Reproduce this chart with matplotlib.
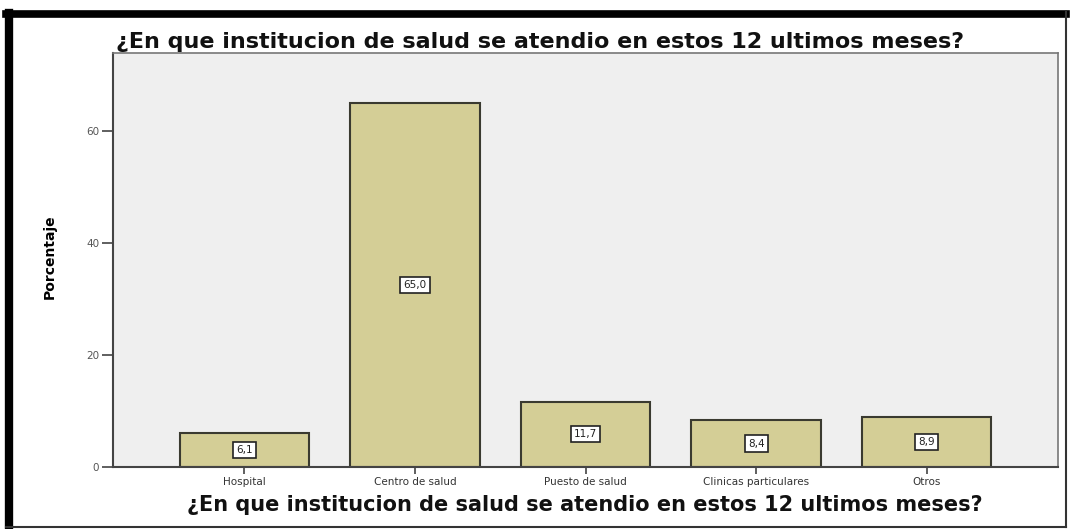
import matplotlib
matplotlib.use("Agg")
import matplotlib.pyplot as plt
from matplotlib.lines import Line2D

# datos
categorias = ["Hospital", "Centro de salud", "Puesto de salud", "Clinicas particulares", "Otros"]
porcentajes = [6.1, 65.0, 11.7, 8.4, 8.9]
etiquetas = ["6,1", "65,0", "11,7", "8,4", "8,9"]
yticks = [0, 20, 40, 60]
titulo = "¿En que institucion de salud se atendio en estos 12 ultimos meses?"

fig = plt.figure(figsize=(10.72, 5.29), dpi=100)
fig.patch.set_facecolor("white")

# marco negro de afuera
fig.add_artist(Line2D([9/1072, 9/1072], [2/529, 516/529], color="black", lw=6, transform=fig.transFigure))
fig.add_artist(Line2D([6/1072, 1066/1072], [515/529, 515/529], color="black", lw=5.5, transform=fig.transFigure))
fig.add_artist(Line2D([1066/1072, 1066/1072], [2/529, 517/529], color="#333333", lw=1.5, transform=fig.transFigure))
fig.add_artist(Line2D([6/1072, 1066/1072], [2.5/529, 2.5/529], color="#333333", lw=1.5, transform=fig.transFigure))

ax = fig.add_axes([113/1072, 62/529, 945/1072, 414/529])
ax.set_facecolor("#EFEFEF")

x = list(range(len(categorias)))
ax.bar(x, porcentajes, width=0.76, color="#D4CE96", edgecolor="#3a3a30", linewidth=1.5, zorder=2)

for xi, v, t in zip(x, porcentajes, etiquetas):
    ax.text(xi, v / 2, t, ha="center", va="center", fontsize=7.5, color="#222222", zorder=3,
            bbox=dict(boxstyle="square,pad=0.3", facecolor="white", edgecolor="#222222", linewidth=1.2))

ax.set_xlim(-0.77, len(categorias) - 1 + 0.77)
ax.set_ylim(0, 74)
ax.set_yticks(yticks)
ax.set_yticklabels([str(t) for t in yticks], fontsize=7.5, color="#555555")
ax.set_xticks(x)
ax.set_xticklabels(categorias, fontsize=7.5, color="#333333")
ax.tick_params(axis="y", length=8, width=1.2, color="#444444", pad=2)
ax.tick_params(axis="x", length=5, width=1.2, color="#444444", pad=2)

for s in ["left", "bottom"]:
    ax.spines[s].set_color("#444444")
    ax.spines[s].set_linewidth(1.5)
for s in ["top", "right"]:
    ax.spines[s].set_color("#777777")
    ax.spines[s].set_linewidth(1.2)

fig.text(540/1072, 1 - 42/529, titulo, ha="center", va="center", fontsize=16,
         fontweight="bold", color="#111111")
fig.text(585/1072, 1 - 505/529, titulo, ha="center", va="center", fontsize=15,
         fontweight="bold", color="#111111")
fig.text(50/1072, 1 - 257/529, "Porcentaje", rotation=90, ha="center", va="center",
         fontsize=10, fontweight="bold", family=["Liberation Sans Narrow", "DejaVu Sans"])

fig.savefig("out.png", dpi=100)
